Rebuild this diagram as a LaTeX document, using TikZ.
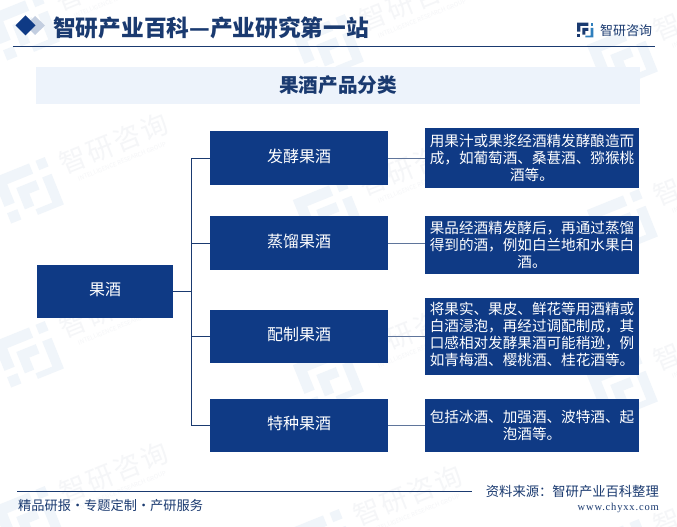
\documentclass[tikz,border=0pt]{standalone}
\usepackage{fontspec}
\setmainfont{Noto Sans CJK SC}
\newfontfamily\urlfont[LetterSpace=8]{Liberation Serif}
\definecolor{boxblue}{HTML}{0F3A85}
\definecolor{rulenavy}{HTML}{1A3A70}
\definecolor{bandblue}{HTML}{EDF3FB}
\definecolor{wmblue}{HTML}{F0F5FA}
\definecolor{wmgray}{HTML}{F5F6F8}
\definecolor{logoblue}{HTML}{2F7FBD}
\tikzset{
  rootbox/.style={fill=boxblue,text=white,inner sep=0pt,align=center,text depth=5pt,font=\fontsize{16}{19}\selectfont},
  descbox/.style={fill=boxblue,text=white,inner sep=0pt,align=center,font=\fontsize{14.6}{17}\selectfont},
  link/.style={rulenavy,line width=0.9pt},
  sidelink/.style={rulenavy!70,line width=0.9pt},
}
\newcommand{\logomark}[2]{%
  \fill[#1](-27,-27)--(12,-27)--(12,-16)--(-16,-16)--(-16,4)--(-27,4)--cycle;
  \fill[#1](-27,11)--(-16,11)--(-16,22)--(-27,22)--cycle;
  \fill[#1](-9,-9)--(12,-9)--(12,1)--(1,1)--(1,14)--(-9,14)--cycle;
  \fill[#2](19,-27)--(29,-27)--(29,-17)--(19,-17)--cycle;
  \fill[#2](19,-9)--(29,-9)--(29,24)--(1,24)--(1,18)--(19,18)--cycle;}
\begin{document}
\begin{tikzpicture}[x=1pt,y=-1pt]
  \useasboundingbox(0,0)rectangle(677,527);
  \fill[white](0,0)rectangle(677,527);
  % watermarks
  \foreach \x/\y in {24/30,328/50,622/60,28/193,328/215,622/225,28/357,328/380,622/390,28/522,322/545,622/555}{
    \begin{scope}[shift={(\x,\y)},rotate=22]
      \logomark{wmblue}{wmblue}
      \node[wmgray,rotate=22,font=\fontsize{27}{30}\selectfont\addfontfeature{LetterSpace=8}] (wm\x\y) at (98,-14){智研咨询};
      \node[wmgray,rotate=22,font=\fontsize{6}{7}\selectfont] (ws\x\y) at (99,6){INTELLIGENCE RESEARCH GROUP};
    \end{scope}}
  % header
  \fill[boxblue!25](35,16)--(45,25.5)--(35,35)--(26,25.5)--cycle;
  \fill[boxblue](25.5,15.5)--(35.5,25.5)--(25.5,35.5)--(15.5,25.5)--cycle;
  \node[rulenavy,anchor=west,inner sep=0pt,font=\fontsize{22.7}{25}\selectfont\bfseries] (title) at (53,27.5){智研产业百科—产业研究第一站};
  \coordinate (headl) at (13,46);
  \coordinate (headr) at (655,46);
  \draw[rulenavy,line width=0.9pt](headl)--(headr);
  \begin{scope}[shift={(585,30.5)},scale=0.29]
    \logomark{rulenavy}{logoblue}
  \end{scope}
  \node[rulenavy,anchor=west,inner sep=0pt,font=\fontsize{13}{15}\selectfont] (brand) at (600,30.5){智研咨询};
  % title band
  \node[fill=bandblue,minimum width=604pt,minimum height=37pt,inner sep=0pt,text=rulenavy,font=\fontsize{19.6}{22}\selectfont\bfseries] (band) at (338,85.5){果酒产品分类};
  % boxes
  \node[rootbox,minimum width=136pt,minimum height=53pt] (guojiu) at (105,291.5){果酒};
  \node[rootbox,minimum width=178pt,minimum height=54pt] (fajiao) at (299,158){发酵果酒};
  \node[rootbox,minimum width=178pt,minimum height=54pt] (zhengliu) at (299,243){蒸馏果酒};
  \node[rootbox,minimum width=178pt,minimum height=53pt] (peizhi) at (299,336.5){配制果酒};
  \node[rootbox,minimum width=178pt,minimum height=53pt] (tezhong) at (299,425.5){特种果酒};
  \node[descbox,minimum width=214pt,minimum height=60pt] (fajiaotxt) at (532,158){用果汁或果浆经酒精发酵酿造而\\成，如葡萄酒、桑葚酒、猕猴桃\\酒等。};
  \node[descbox,minimum width=214pt,minimum height=58pt] (zhengliutxt) at (532,245){果品经酒精发酵后，再通过蒸馏\\得到的酒，例如白兰地和水果白\\酒。};
  \node[descbox,text depth=6pt,minimum width=214pt,minimum height=77pt] (peizhitxt) at (532,336.5){将果实、果皮、鲜花等用酒精或\\白酒浸泡，再经过调配制成，其\\口感相对发酵果酒可能稍逊，例\\如青梅酒、樱桃酒、桂花酒等。};
  \node[descbox,minimum width=214pt,minimum height=53pt] (tezhongtxt) at (532,425.5){包括冰酒、加强酒、波特酒、起\\泡酒等。};
  % connectors
  \coordinate (trunk) at (191,291.5);
  \draw[link](guojiu.east)--(trunk);
  \foreach \n in {fajiao,zhengliu,peizhi,tezhong}{
    \draw[link](\n.west)-|(trunk);
    \draw[sidelink](\n.east)--(\n.east-|\n txt.west);}
  % footer
  \coordinate (footl) at (17,491);
  \coordinate (footr) at (472,491);
  \draw[rulenavy,line width=0.9pt](footl)--(footr);
  \node[rulenavy,anchor=west,inner sep=0pt,font=\fontsize{13.2}{15}\selectfont] (slogan) at (18,505.5){精品研报・专题定制・产研服务};
  \node[rulenavy,anchor=east,inner sep=0pt,font=\fontsize{13.3}{15}\selectfont] (source) at (659,491){资料来源：智研产业百科整理};
  \node[rulenavy,anchor=east,inner sep=0pt,font=\urlfont\fontsize{10.5}{12}\selectfont] (url) at (659,508){www.chyxx.com};
\end{tikzpicture}
\end{document}
